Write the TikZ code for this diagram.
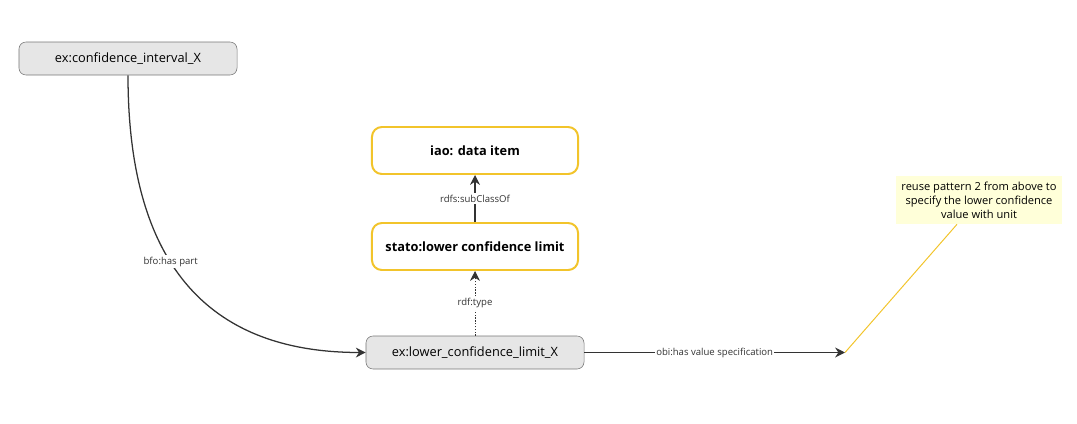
\documentclass[tikz,border=0pt]{standalone}
\usepackage{fontspec}
\setmainfont{Open Sans}
\usetikzlibrary{arrows.meta}
\definecolor{boxgray}{HTML}{E6E6E6}
\definecolor{edgegray}{HTML}{777777}
\definecolor{classyellow}{HTML}{F2C42B}
\definecolor{notefill}{HTML}{FFFFD9}
\definecolor{linkgray}{HTML}{333333}

\begin{document}
\begin{tikzpicture}[x=0.025cm,y=-0.025cm,
    instance/.style={draw=edgegray,fill=boxgray,rounded corners=5pt,
        minimum width=5.45cm,minimum height=0.825cm,font=\fontsize{9.1}{11}\selectfont},
    classbox/.style={draw=classyellow,line width=1.4pt,fill=white,rounded corners=7pt,
        minimum width=5.15cm,minimum height=1.175cm,font=\fontsize{9.1}{11}\selectfont\bfseries},
    link/.style={draw=linkgray,line width=0.9pt,-{Stealth[length=7pt,width=7pt]}},
    lbl/.style={fill=white,inner sep=1pt,font=\fontsize{6.8}{8}\selectfont,text=black!80}]
    \useasboundingbox (0,0) rectangle (1077,423);
    % nodes
    \node [instance] (ci) at (128,58.5) {ex:confidence\_interval\_X};
    \node [classbox] (item) at (475,150.5) {iao: data item};
    \node [classbox] (limit) at (475,246.5) {stato:lower confidence limit};
    \node [instance] (lcl) at (475,352.5) {ex:lower\_confidence\_limit\_X};
    \node [fill=notefill,align=center,inner sep=0pt,minimum width=4.15cm,minimum height=1.2cm,
        font=\fontsize{7.9}{10}\selectfont] (note) at (979,200)
        {reuse pattern 2 from above to\\specify the lower confidence\\value with unit};
    \coordinate (spec) at (845,352.5);
    % edges
    \draw [link] (ci.south) .. controls (128,235) and (185,352.5) .. (lcl.west)
        node [lbl,pos=0.46] {bfo:has part};
    \draw [link] (limit.north) -- (item.south) node [lbl,midway] {rdfs:subClassOf};
    \draw [link,line width=0.6pt,dash pattern=on 1pt off 1pt] (lcl.north) -- (limit.south)
        node [lbl,midway] {rdf:type};
    \draw [link] (lcl.east) -- (spec) node [lbl,midway] {obi:has value specification};
    \draw [classyellow,line width=0.7pt] (spec) -- (note.south west -| 957,0);
\end{tikzpicture}
\end{document}
